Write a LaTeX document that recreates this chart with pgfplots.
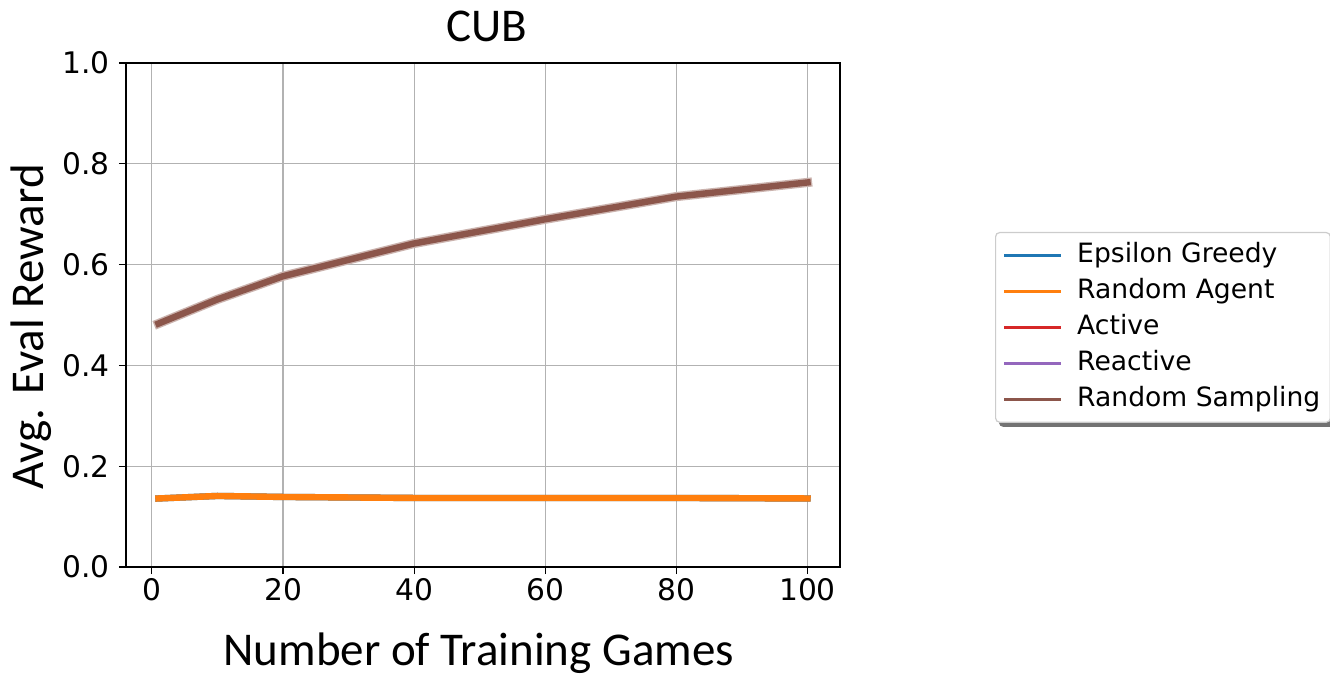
\documentclass[border=0pt]{standalone}
\usepackage{pgfplots}
\pgfplotsset{compat=1.18}
\usepackage{fontspec}
\setmainfont{DejaVu Sans}
\newfontfamily\carlito{Carlito}
\usetikzlibrary{backgrounds}

\definecolor{tabblue}{HTML}{1F77B4}
\definecolor{taborange}{HTML}{FF7F0E}
\definecolor{tabred}{HTML}{D62728}
\definecolor{tabpurple}{HTML}{9467BD}
\definecolor{tabbrown}{HTML}{8C564B}

% one table per group of curves
\pgfplotstableread{
x   y
1   0.136
10  0.141
20  0.139
40  0.137
60  0.137
80  0.137
100 0.136
}\lowcurve
\pgfplotstableread{
x   y
1   0.483
10  0.531
20  0.577
40  0.642
60  0.690
80  0.735
100 0.763
}\highcurve

\begin{document}
\begin{tikzpicture}
\begin{axis}[
    scale only axis,
    width=357pt, height=252pt,
    xmin=-3.95, xmax=104.95,
    ymin=0, ymax=1,
    xtick={0,20,40,60,80,100},
    xticklabels={0,20,40,60,80,100},
    ytick={0,0.2,0.4,0.6,0.8,1},
    yticklabels={0.0,0.2,0.4,0.6,0.8,1.0},
    tick align=outside, tick pos=left,
    major tick length=3.5pt,
    tick style={black, line width=0.6pt},
    grid=major,
    grid style={black!30, line width=0.6pt},
    axis line style={line width=0.7pt},
    ticklabel style={font=\fontsize{14.85}{16}\selectfont, inner sep=0pt},
    yticklabel style={xshift=-4.5pt},
    xticklabel style={yshift=-2pt},
    clip=false,
    legend cell align=left,
    legend image code/.code={\draw[#1, line width=1.3pt] (0pt,0pt) -- (27.5pt,0pt);},
    legend style={
        name=leg,
        at={(1.2171,0.6647)}, anchor=north west,
        draw=black!20, line width=0.6pt, rounded corners=2pt, fill=white,
        font=\fontsize{13.3}{16}\selectfont,
        inner xsep=4pt, inner ysep=4.15pt,
        column sep=7pt, row sep=3.5pt,
        nodes={inner sep=1pt, text height=9.7pt, text depth=2.8pt},
    },
]
\addplot[tabblue, line width=3.2pt, line cap=rect] table[x=x,y=y] {\lowcurve};
\addlegendentry{Epsilon Greedy}
\addplot[taborange, line width=3.2pt, line cap=rect] table[x=x,y=y] {\lowcurve};
\addlegendentry{Random Agent}
\addplot[tabred, line width=3.2pt, line cap=rect] table[x=x,y=y] {\highcurve};
\addlegendentry{Active}
\addplot[tabpurple, line width=3.2pt, line cap=rect] table[x=x,y=y] {\highcurve};
\addlegendentry{Reactive}
% faint band round the last curve
\addplot[tabbrown!45, line width=4.6pt, line cap=rect, forget plot] table[x=x,y=y] {\highcurve};
\addplot[tabbrown, line width=3.2pt, line cap=rect] table[x=x,y=y] {\highcurve};
\addlegendentry{Random Sampling}

\node[font=\carlito\fontsize{23.5}{28}\selectfont, anchor=base, inner sep=0pt]
    at (rel axis cs:0.505,1.0417) {CUB};
\node[font=\carlito\fontsize{23.5}{28}\selectfont, anchor=base west, inner sep=0pt]
    at (rel axis cs:0.1359,-0.196) {Number of Training Games};
\node[font=\carlito\fontsize{23.5}{28}\selectfont, anchor=base west, inner sep=0pt, rotate=90]
    at (rel axis cs:-0.1162,0.1528) {Avg. Eval Reward};
\end{axis}
% legend shadow, as matplotlib draws it
\begin{scope}[on background layer]
\fill[black!55, rounded corners=2pt]
    ([shift={(2pt,-2pt)}]leg.south west) rectangle ([shift={(2pt,-2pt)}]leg.north east);
\end{scope}
\pgfresetboundingbox
\path[use as bounding box] (-63pt,-55pt) rectangle (602pt,283.5pt);
\end{tikzpicture}
\end{document}
